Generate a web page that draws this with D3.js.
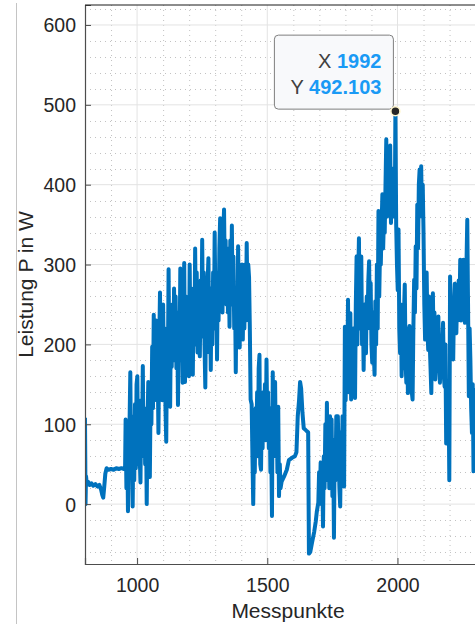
<html>
<head>
<script src="https://d3js.org/d3.v7.min.js"></script>
<style>
  body { margin: 0; background: #fff; }
  svg text { font-family: "Liberation Sans", Arial, Helvetica, sans-serif; fill: #262626; }
  .grid-major line { stroke: #e3e3e3; stroke-width: 1px; }
  .grid-minor line { stroke: #c2c2c2; stroke-width: 1px; stroke-dasharray: 1,4; }
</style>
</head>
<body>
<svg id="chart"></svg>
<script>
// Messpunkte (x) and Leistung (y), row by row
var messpunkte = [
  800,801,802,804,807,812,818,825,832,840, 848,855,862,866,870,874,878,883,890,900, 910,920,930,940,950,954,
  956,959,962,965,968,971,974,977,980,983, 986,989,992,995,998,1001,1004,1007,1010,1013,
  1016,1019,1022,1025,1028,1031,1034,1037,1040,1043, 1046,1049,
  1052,1055,1058,1061,1064,1067,1070,1073,1076,1079,
  1082,1085,1088,1091,1094,1097,1100,1103,1106,1109,
  1112,1115,1118,1121,1124,1127,1130,1133,1136,1139,
  1142,1145,1148,1151,1154,1157,1160,1163,1166,1169,
  1172,1175,1178,1181,1184,1187,1190,1193,1196,1199,
  1202,1205,1208,1211,1214,1217,1220,1223,1226,1229,
  1232,1235,1238,1241,1244,1247,1250,1253,1256,1259,
  1262,1265,1268,1271,1274,1277,1280,1283,1286,1289,
  1292,1295,1298,1301,1304,1307,1310,1313,1316,1319,
  1322,1325,1328,1331,1334,1337,1340,1343,1346,1349,
  1352,1355,1358,1361,1364,1367,1370,1373,1376,1379,
  1382,1385,1388,1391,1394,1397,1400,1403,1406,1409,
  1412,1415,1418,1421,1424,1427,1430,1433,1436,
  1440,1443,1446,1449,1452,1455,1458,1461,1464,1467,
  1470,1473,1476,1479,1482,1485,1488,1491,1494,1497,
  1500,1503,1506,1509,1512,1515,1518,1521,1524,1527,
  1530,1533,1536,1539,1542,1545,1548,1551,
  1555,1565,1575,1583,1595,1606,1612,1617,1622,1626,
  1630,1635,1640,1650,1657,
  1660,1665,1672,1680,1686,1690,1693,1696,1699,1702,
  1705,1708,1711,1714,1717,1720,1723,1726,1729,1732,
  1735,1738,1741,1744,1747,1750,1753,1756,1759,1762,
  1765,1768,1771,1774,1777,1780,1783,1786,1789,1792,
  1795,
  1798,1801,1804,1807,1810,1813,1816,1819,1822,1825,
  1828,1831,1834,1837,1840,1843,1846,1849,1852,1855,
  1858,1861,1864,1867,1870,1873,1876,1879,1882,1885,
  1888,1891,1894,1897,1900,1903,1906,1909,1912,1915,
  1918,1921,1924,1927,1930,1933,1936,1939,1942,1945,
  1948,1951,1954,1957,1960,1963,1966,1969,1972,1975,
  1978,1981,1984,1987,1990,1992,1995,1998,
  2001,2004,2007,2010,2013,2016,2019,2022,2025,2028,
  2031,2034,2037,2040,2043,2046,2049,2052,2055,2058,
  2061,2064,2067,2070,2073,2076,2079,2082,2085,2088,
  2091,2094,2097,2100,2103,2106,2109,2112,2115,2118,
  2121,2124,2127,2130,2133,2136,2139,2142,2145,2148,
  2151,2154,2157,2160,2163,2166,2169,2172,2175,2178,
  2181,2184,2187,2190,2193,2196,2199,2202,2205,2208,
  2211,2214,2217,2220,2223,2226,2229,2232,2235,2238,
  2241,2244,2247,2250,2253,2256,2259,2262,2265,2268,
  2271,2274,2277,2280,2283,2286,2289,2292,2295,2298,
  2301,2304];
var leistung = [
  108,60,0,35,24,28,24,26,23,25, 22,24,18,12,8,22,38,45,43,44, 43,45,44,45,44,46,
  106,20,90,-9,60,100,165,40,110,-3, 90,30,125,45,150,160,50,120,60,27,
  130,80,173,60,120,50,110,0,100,153, 55,34,
  140,100,197,120,237,130,200,230,140,180,
  89,200,265,150,230,130,250,160,220,120,
  78,200,160,294,170,122,240,172,250,180,
  270,190,260,170,240,124,220,180,295,190,
  260,152,250,302,153,260,180,250,170,160,
  300,200,270,180,162,260,200,320,220,290,
  190,270,200,185,280,210,331,230,290,200,
  146,260,190,280,308,210,260,168,270,200,
  290,220,340,240,290,181,290,230,320,358,
  250,330,240,340,369,280,330,250,320,240,
  300,222,330,260,349,250,310,220,270,165,
  270,210,323,240,196,290,230,300,206,280,
  220,300,230,327,250,300,284,220,131,
  125,60,0,80,40,120,70,140,60,170,
  187,50,43,120,70,140,90,150,80,181,
  100,140,70,120,40,80,-15,165,60,120,
  153,60,110,40,122,10,50,20,
  28,35,43,55,58,60,65,110,130,153,
  145,115,95,92,90,
  -62,-60,-48,-35,-22,-10,-4,2,40,10,
  52,0,40,-28,60,20,100,40,127,30,
  100,20,110,40,106,10,80,-42,80,30,
  110,40,110,60,20,-3,90,30,110,40,
  22,
  222,130,200,150,256,140,200,239,131,200,
  150,220,160,133,250,310,200,280,333,220,
  280,310,200,250,168,250,200,189,260,220,
  280,304,230,277,200,177,240,190,162,254,
  200,300,220,367,260,320,300,350,388,320,
  360,340,400,457,360,420,380,440,449,352,
  410,420,360,400,380,492.103,350,300,
  268,344,220,189,250,160,230,170,240,275,
  180,152,220,139,200,223,160,190,140,131,
  220,281,240,323,270,375,320,400,419,370,
  423,360,400,340,250,206,260,290,220,193,
  260,200,170,139,230,264,190,240,156,220,
  180,210,235,170,152,210,170,200,227,160,
  147,200,76,150,80,150,30,285,200,240,
  190,181,250,276,220,214,260,230,280,240,
  306,230,280,250,306,240,227,280,300,356,
  250,135,220,180,120,89,150,41,100,143,
  60,120];

var xTicks = [1000, 1500, 2000];
var yTicks = [0, 100, 200, 300, 400, 500, 600];
var tipX = 1992, tipY = 492.103;

var W = 475, H = 624;
var svg = d3.select("#chart").attr("width", W).attr("height", H);

var x = d3.scaleLinear().domain([800, 2400]).range([85, 85 + 1600 * 0.2604]);
var y = d3.scaleLinear().domain([-75, 625]).range([564, 5]);
var axLeft = 85, axTop = 5, axBottom = 564, axRight = x.range()[1];

svg.append("clipPath").attr("id", "plot")
  .append("rect").attr("x", axLeft).attr("y", axTop).attr("width", axRight - axLeft).attr("height", axBottom - axTop);

// outer panel border
svg.append("line").attr("x1", 16.5).attr("x2", 16.5).attr("y1", 3).attr("y2", H)
  .attr("stroke", "#c4c4c4").attr("stroke-width", 1);

// minor grid
var minorX = d3.range(900, 2400, 100).filter(function(v) { return v % 500 != 0; });
var minorY = d3.range(-60, 625, 20).filter(function(v) { return v % 100 != 0; });
var gMinor = svg.append("g").attr("class", "grid-minor");
gMinor.selectAll(".mx").data(minorX).enter().append("line")
  .attr("x1", function(d) { return x(d) + 0.5; }).attr("x2", function(d) { return x(d) + 0.5; })
  .attr("y1", axTop).attr("y2", axBottom);
gMinor.selectAll(".my").data(minorY).enter().append("line")
  .attr("y1", function(d) { return Math.round(y(d)) + 0.5; }).attr("y2", function(d) { return Math.round(y(d)) + 0.5; })
  .attr("x1", axLeft).attr("x2", axRight);

// major grid
var gMajor = svg.append("g").attr("class", "grid-major");
gMajor.selectAll(".gx").data(xTicks).enter().append("line")
  .attr("x1", function(d) { return x(d); }).attr("x2", function(d) { return x(d); })
  .attr("y1", axTop).attr("y2", axBottom);
gMajor.selectAll(".gy").data(yTicks).enter().append("line")
  .attr("y1", function(d) { return y(d); }).attr("y2", function(d) { return y(d); })
  .attr("x1", axLeft).attr("x2", axRight);

// data line
var n = Math.min(messpunkte.length, leistung.length);
var line = d3.line()
  .x(function(d, i) { return x(messpunkte[i]); })
  .y(function(d) { return y(d); });
svg.append("path").datum(leistung.slice(0, n))
  .attr("clip-path", "url(#plot)")
  .attr("d", line)
  .attr("fill", "none")
  .attr("stroke", "#0072BD")
  .attr("stroke-width", 4)
  .attr("stroke-linejoin", "round");

// axes (ticks point inward)
var xAxis = d3.axisBottom(x).tickValues(xTicks).tickSize(-6).tickPadding(14).tickFormat(d3.format("d"));
var yAxis = d3.axisLeft(y).tickValues(yTicks).tickSize(-6).tickPadding(9).tickFormat(d3.format("d"));
var gx = svg.append("g").attr("transform", "translate(0," + axBottom + ")").call(xAxis);
var gy = svg.append("g").attr("transform", "translate(" + axLeft + ",0)").call(yAxis);
[gx, gy].forEach(function(g) {
  g.select(".domain").attr("stroke", "#4d4d4d").attr("stroke-width", 1.2);
  g.selectAll(".tick line").attr("stroke", "#4d4d4d");
  g.selectAll(".tick text").attr("font-size", "19.5px").attr("fill", "#262626")
    .style("font-family", '"Liberation Sans", Arial, sans-serif');
});
gy.selectAll(".tick text").attr("dy", "0.36em");
svg.append("line").attr("x1", axLeft).attr("x2", W).attr("y1", axTop).attr("y2", axTop)
  .attr("stroke", "#1a1a1a").attr("stroke-width", 1.2);

// axis labels
svg.append("text").attr("x", 288).attr("y", 618)
  .attr("text-anchor", "middle").attr("font-size", "21px").text("Messpunkte");
svg.append("text")
  .attr("transform", "translate(33," + ((axTop + axBottom) / 2) + ") rotate(-90)")
  .attr("text-anchor", "middle").attr("font-size", "21px").text("Leistung P in W");

// data tip
var px = x(tipX), py = y(tipY);
var tip = svg.append("g");
tip.append("rect").attr("x", px - 121).attr("y", py - 76).attr("width", 119).attr("height", 74)
  .attr("rx", 4).attr("fill", "#f8f9fb").attr("stroke", "#7f7f7f").attr("stroke-width", 1);
var t1 = tip.append("text").attr("x", px - 14).attr("y", py - 43).attr("text-anchor", "end").attr("font-size", "20px");
t1.append("tspan").attr("fill", "#404040").text("X ");
t1.append("tspan").attr("fill", "#1a9af5").attr("font-weight", "bold").text(d3.format("d")(tipX));
var t2 = tip.append("text").attr("x", px - 14).attr("y", py - 17).attr("text-anchor", "end").attr("font-size", "20px");
t2.append("tspan").attr("fill", "#404040").text("Y ");
t2.append("tspan").attr("fill", "#1a9af5").attr("font-weight", "bold").text(d3.format(".3f")(tipY));
tip.append("circle").attr("cx", px).attr("cy", py).attr("r", 4.5)
  .attr("fill", "#262626").attr("stroke", "#fff6cc").attr("stroke-width", 1.5);
</script>
</body>
</html>
